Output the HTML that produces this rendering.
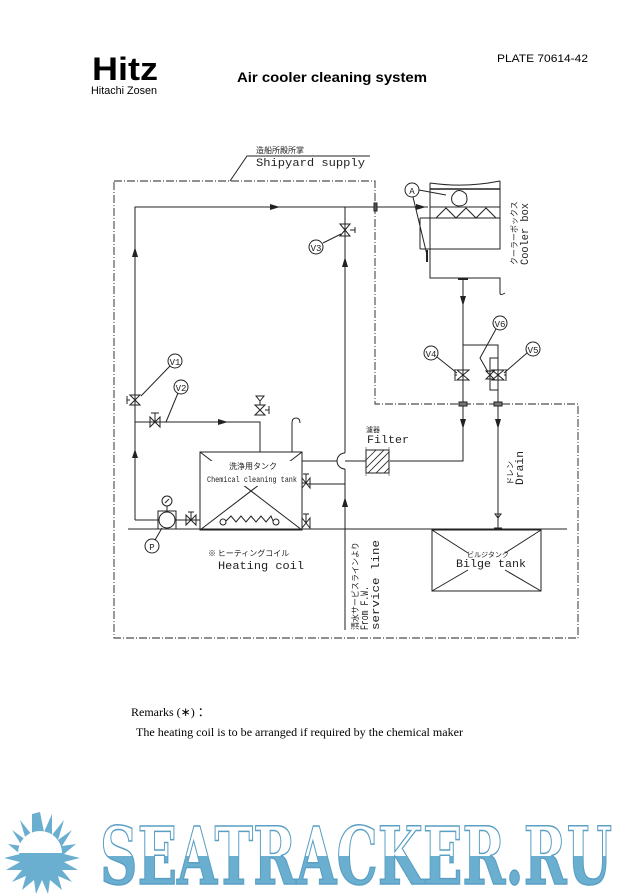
<!DOCTYPE html>
<html><head><meta charset="utf-8"><style>
html,body{margin:0;padding:0;background:#fff;}
svg{display:block;}
</style></head><body>
<svg width="634" height="896" viewBox="0 0 634 896" xmlns="http://www.w3.org/2000/svg" font-family="'Liberation Sans','Noto Sans CJK JP',sans-serif">
<text x="92" y="80" font-size="32" font-weight="bold" font-family="'Liberation Sans Narrow','Liberation Sans',sans-serif" textLength="66" lengthAdjust="spacingAndGlyphs">Hitz</text>
<text x="91" y="94" font-size="11" textLength="66" lengthAdjust="spacingAndGlyphs">Hitachi Zosen</text>
<text x="237" y="82" font-size="14" font-weight="bold" textLength="190" lengthAdjust="spacingAndGlyphs">Air cooler cleaning system</text>
<text x="497" y="62" font-size="11" textLength="91" lengthAdjust="spacingAndGlyphs">PLATE  70614-42</text>

<g stroke="#222" fill="none" stroke-width="1">
<path d="M114 181 H375 V404 H578 V638 H114 Z" stroke-dasharray="8 2 1 2" stroke-width="0.9"/>
<path d="M230 181 L247 156 H370"/>
<path d="M135 520 V207 H428"/>
<path d="M345 207 V453 M345 469 V630"/>
<path d="M340 224 L350 236 L340 236 L350 224 Z"/><path d="M350 230 H355 M355 227 V233"/>
<path d="M341 234 L323 243"/>
<circle cx="316" cy="247" r="7"/>
<rect x="374" y="203" width="3" height="8" fill="#555"/>
<path d="M430 183 Q465 188 500 181 M430 183 V249 H500 V181"/>
<path d="M430 189 H500" stroke-width="1.5"/>
<path d="M430 207 H500"/>
<path d="M420 218 H500 M420 218 V249 M420 249 H500"/>
<path d="M430 249 V278 H500 V293 Q500 296 505 293"/>
<path d="M436 218 L446 208 L456 218 L466 208 L476 218 L486 208 L496 218"/>
<path d="M452 196 Q458 186 466 194 Q470 206 458 206 Q450 204 452 196"/>
<path d="M427 250 V262" stroke-width="2"/>
<circle cx="412" cy="190" r="7"/>
<path d="M419 190 L446 195 M413 197 L427 255"/>
<path d="M463 278 V461 H390"/>
<path d="M458 279 H468" stroke-width="2"/>
<path d="M463 345 H498 V520"/>
<path d="M457 370 L469 380 L457 380 L469 370 Z"/><path d="M455 369 V381 M455 375 H457"/>
<circle cx="431" cy="353" r="7"/><path d="M437 357 L457 373"/>
<path d="M492 370 L504 380 L492 380 L504 370 Z"/><path d="M506 369 V381 M504 375 H506"/>
<circle cx="533" cy="349" r="7"/><path d="M527 353 L504 373"/>
<path d="M498 358 H490 V390 H498"/>
<path d="M486 371 L494 379 L486 379 L494 371 Z"/>
<circle cx="500" cy="323" r="7"/><path d="M496 329 L480 358 L488 372"/>
<rect x="459" y="402" width="8" height="4" fill="#777"/>
<rect x="494" y="402" width="8" height="4" fill="#777"/>
<rect x="366" y="450" width="23" height="23"/>
<path d="M366 460 L376 450 M366 468 L384 450 M368 473 L389 452 M376 473 L389 460 M384 473 L389 468" stroke-width="0.8"/>
<path d="M366 447 V476 M389 447 V476" stroke-width="0.5"/>
<path d="M302 461 H337 M345 461 H366"/>
<path d="M345 453 A8 8 0 0 0 345 469"/>
<path d="M307 484 H345"/>
<path d="M128 529 H567"/>
<rect x="432" y="530" width="109" height="61"/>
<path d="M432 530 L468 553 M541 530 L505 553 M432 591 L468 570 M541 591 L505 570"/>
<path d="M495 514 L501 514 L498 518 Z M498 518 V528 M494 528 H502"/>
<!-- chemical tank -->
<rect x="200" y="452" width="102" height="78"/>
<path d="M200 452 L302 530 M302 452 L200 530"/>
<path d="M135 422 H260 V452"/>
<path d="M150 417 L160 427 L160 417 L150 427 Z"/><path d="M155 422 V413 M151 413 H159"/>
<path d="M255 405 L265 415 L255 415 L265 405 Z"/><path d="M265 410 H269 M269 406 V414"/>
<path d="M256 396 H264 L260 401 Z M260 401 V405"/>
<path d="M292 452 V423 Q292 418 296 418 Q300 418 300 423"/>
<path d="M166 422 L178 393"/><circle cx="181" cy="387" r="7"/>
<path d="M130 395 L140 405 L130 405 L140 395 Z"/><path d="M130 400 H127 M127 396 V404"/>
<path d="M141 396 L170 366"/><circle cx="175" cy="361" r="7"/>
<path d="M135 520 H158 M176 520 H200"/>
<rect x="158" y="511" width="18" height="18"/>
<circle cx="167" cy="520" r="8" fill="#fff"/>
<circle cx="167" cy="501" r="5"/><path d="M167 506 V511 M165 503 L169 499"/>
<circle cx="152" cy="546" r="7"/><path d="M155 540 L162 528"/>
<path d="M186 515 L196 525 L196 515 L186 525 Z"/><path d="M191 520 V512 M188 512 H194"/>
<path d="M302 478 L310 488 L310 478 L302 488 Z"/><path d="M306 483 V474 M303 474 H309"/>
<path d="M302 518 L310 528 L310 518 L302 528 Z"/><path d="M306 523 V514 M303 514 H309"/>
<path d="M302 483 H307"/>
</g>
<rect x="206" y="461" width="90" height="25" fill="#fff"/>
<g stroke="#222" fill="none" stroke-width="1">
<circle cx="223" cy="522" r="3" fill="#fff"/><circle cx="276" cy="522" r="3" fill="#fff"/>
<path d="M226 521 L231 516 L236 522 L241 516 L246 522 L251 516 L256 522 L261 516 L266 522 L271 516 L273 521"/>
</g>
<g fill="#222">
<path d="M270 204 L280 207 L270 210 Z"/>
<path d="M132 257 L135 247 L138 257 Z"/>
<path d="M342 267 L345 257 L348 267 Z"/>
<path d="M416 204 L426 207 L416 210 Z"/>
<path d="M460 296 L463 306 L466 296 Z"/>
<path d="M460 419 L463 429 L466 419 Z"/>
<path d="M495 419 L498 429 L501 419 Z"/>
<path d="M218 419 L228 422 L218 425 Z"/>
<path d="M132 458 L135 449 L138 458 Z"/>
<path d="M342 507 L345 497 L348 507 Z"/>
</g>
<g font-family="'Liberation Mono','Noto Sans CJK JP',monospace" fill="#222">
<text x="256" y="153" font-size="8" font-family="'Noto Sans CJK JP',sans-serif">造船所殿所掌</text>
<text x="256" y="166" font-size="11" textLength="109" lengthAdjust="spacingAndGlyphs">Shipyard supply</text>
<text x="316" y="251" font-size="9" text-anchor="middle">V3</text>
<text x="412" y="194" font-size="9" text-anchor="middle">A</text>
<text x="175" y="365" font-size="9" text-anchor="middle">V1</text>
<text x="181" y="391" font-size="9" text-anchor="middle">V2</text>
<text x="431" y="357" font-size="9" text-anchor="middle">V4</text>
<text x="500" y="327" font-size="9" text-anchor="middle">V6</text>
<text x="533" y="353" font-size="9" text-anchor="middle">V5</text>
<text x="152" y="550" font-size="9" text-anchor="middle">P</text>
<text x="366" y="432" font-size="7" font-family="'Noto Sans CJK JP',sans-serif">濾器</text>
<text x="367" y="443" font-size="11" textLength="42" lengthAdjust="spacingAndGlyphs">Filter</text>
<text x="229" y="469" font-size="8" font-family="'Noto Sans CJK JP',sans-serif">洗浄用タンク</text>
<text x="207" y="482" font-size="8" textLength="90" lengthAdjust="spacingAndGlyphs">Chemical cleaning tank</text>
<text x="208" y="556" font-size="8" font-family="'Noto Sans CJK JP',sans-serif">※ ヒーティングコイル</text>
<text x="218" y="569" font-size="11" textLength="86" lengthAdjust="spacingAndGlyphs">Heating coil</text>
<text x="467" y="557" font-size="7" font-family="'Noto Sans CJK JP',sans-serif">ビルジタンク</text>
<text x="456" y="567" font-size="11" textLength="70" lengthAdjust="spacingAndGlyphs">Bilge tank</text>
<g transform="translate(517,265) rotate(-90)">
<text x="0" y="0" font-size="8" font-family="'Noto Sans CJK JP',sans-serif">クーラーボックス</text>
<text x="0" y="11" font-size="11" textLength="62" lengthAdjust="spacingAndGlyphs">Cooler box</text>
</g>
<g transform="translate(513,485) rotate(-90)">
<text x="0" y="0" font-size="8" font-family="'Noto Sans CJK JP',sans-serif">ドレン</text>
<text x="0" y="10" font-size="11" textLength="34" lengthAdjust="spacingAndGlyphs">Drain</text>
</g>
<g transform="translate(358,630) rotate(-90)">
<text x="0" y="0" font-size="8" font-family="'Noto Sans CJK JP',sans-serif">清水サービスラインより</text>
<text x="0" y="10" font-size="11" textLength="44" lengthAdjust="spacingAndGlyphs">From F.W.</text>
<text x="0" y="21" font-size="11" textLength="90" lengthAdjust="spacingAndGlyphs">service line</text>
</g>
</g>
<text x="131" y="716" font-size="12" font-family="'Liberation Serif',serif">Remarks (∗) ：</text>
<text x="136" y="736" font-size="12" font-family="'Liberation Serif',serif" textLength="327" lengthAdjust="spacingAndGlyphs">The heating coil is to be arranged if required by the chemical maker</text>
<g fill="#6aaed0">
<path d="M40 812 L44 832 L52 814 L52 835 L64 820 L58 840 L72 830 L62 846 L76 844 L64 854 L80 858 L64 862 L78 870 L62 870 L72 882 L58 876 L62 890 L50 880 L48 894 L42 880 L36 894 L34 880 L22 890 L26 876 L12 882 L22 870 L6 870 L20 862 L4 858 L20 854 L8 844 L22 846 L12 830 L26 840 L20 820 L32 835 L32 814 Z"/>
<path d="M18 853 A22 22 0 0 1 62 853 Z" fill="#fff"/>
</g>
<defs><linearGradient id="g" x1="0" y1="0" x2="0" y2="1"><stop offset="0.5" stop-color="#fff"/><stop offset="0.5" stop-color="#6aaed0"/></linearGradient></defs>
<text x="100" y="884" font-size="80" font-weight="bold" font-family="'DejaVu Serif','Liberation Serif',serif" fill="url(#g)" stroke="#5a9fc4" stroke-width="1.5" textLength="512" lengthAdjust="spacingAndGlyphs">SEATRACKER.RU</text>
</svg>
</body></html>
